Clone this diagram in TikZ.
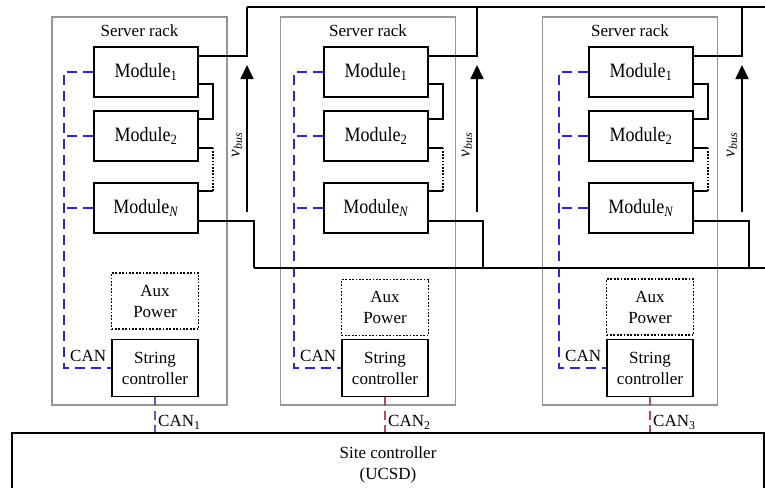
\documentclass[tikz,border=0pt]{standalone}
\usepackage{fontspec}
\setmainfont{Liberation Serif}
\usetikzlibrary{arrows.meta,calc}
\definecolor{canblue}{RGB}{40,40,210}
\definecolor{canred}{RGB}{190,75,75}
\definecolor{canpurple}{RGB}{115,80,180}
\definecolor{rackgray}{RGB}{150,150,150}

\newcommand{\modtext}[1]{\scalebox{1}[1.13]{#1}}

\begin{document}
\begin{tikzpicture}[x=1pt,y=-1pt,
  every node/.style={font=\fontsize{17}{21}\selectfont, inner sep=0pt},
  rackbox/.style={draw=rackgray, line width=1.4pt, minimum width=175pt, minimum height=388pt},
  modbox/.style={draw, line width=1.7pt, minimum width=104pt, minimum height=50pt,
                 font=\fontsize{18}{21}\selectfont},
  ctrlbox/.style={draw, fill=white, line width=1.7pt, minimum width=86pt, minimum height=57pt, align=center},
  auxbox/.style={draw, line width=1.6pt, dash pattern=on 1.8pt off 1.6pt,
                 minimum width=87pt, minimum height=56pt, align=center},
  wire/.style={line width=1.7pt},
  canbus/.style={draw=canblue, line width=1.6pt, dash pattern=on 10pt off 6pt},
  canlink/.style={line width=1.5pt, dash pattern=on 9pt off 5pt},
  vbusarrow/.style={line width=1.7pt, -{Triangle[length=14pt,width=13pt]}}
]
\useasboundingbox (0,0) rectangle (765,487);
\clip (0,0) rectangle (765,487);

% site controller at the bottom (its lower edge runs off the page)
\node[draw, line width=1.7pt, minimum width=752pt, minimum height=64pt, align=center]
  (site) at (388,465) {Site controller\\(UCSD)};

% bus ends at the right border
\coordinate (topend) at (765,7);
\coordinate (botend) at (765,268);

\foreach \i/\rx/\mx/\sx/\ay/\up/\dn/\col in {
  1/139.5/146/155/301/247/254/canpurple,
  2/368/376/385/307.5/477/483/canred,
  3/630/641/650/307/742/749/canred}
{
  % rack frame and contents
  \node[rackbox] (r\i) at (\rx,211) {};
  \node (lbl\i) at ($(r\i.north)+(0,14)$) {Server rack};
  \node[modbox] (ma\i) at (\mx,72) {\modtext{Module\textsubscript{1}}};
  \node[modbox] (mb\i) at (\mx,136) {\modtext{Module\textsubscript{2}}};
  \node[modbox] (mn\i) at (\mx,208) {\modtext{Module\textsubscript{\textit{N}}}};
  \node[auxbox] (aux\i) at (\sx,\ay) {Aux\\Power};
  \node[ctrlbox] (sc\i) at (\sx,368) {String\\controller};

  % series connection of the modules
  \draw[wire] ($(ma\i.south east)+(0,-14)$) -- ++(14,0) |- ($(mb\i.north east)+(0,9)$);
  \draw[wire] ($(mb\i.south east)+(0,-14)$) -- ++(14,0) coordinate (d\i);
  \coordinate (e\i) at ($(mn\i.north east)+(0,9)$);
  \draw[wire, line width=1.3pt, dash pattern=on 1.6pt off 1.6pt] (d\i) -- (d\i |- e\i);
  \draw[wire] (d\i |- e\i) -- (e\i);

  % string terminals to the DC bus
  \coordinate (tb\i) at (\up,7);
  \coordinate (bb\i) at (\dn,268);
  \draw[wire] ($(ma\i.north east)+(0,10)$) -| (tb\i);
  \draw[wire] ($(mn\i.south east)+(0,-13)$) -| (bb\i);

  % bus voltage arrow
  \coordinate (vs\i) at (\up,212);
  \coordinate (vt\i) at (\up,65);
  \draw[vbusarrow] (vs\i) -- (vt\i);
  \node[rotate=90] (vl\i) at (\up-10,145) {\textit{v}\textsubscript{\textit{bus}}};

  % local CAN bus
  \draw[canbus] (ma\i.west) -- ++(-29,0) coordinate (cv\i) |- (sc\i.west);
  \draw[canbus] (mb\i.west) -- (cv\i |- mb\i.west);
  \draw[canbus] (mn\i.west) -- (cv\i |- mn\i.west);
  \node (can\i) at ($(sc\i.west)+(-23,-12.5)$) {CAN};

  % link to the site controller
  \draw[canlink, draw=\col] (sc\i.south) -- (sc\i.south |- site.north);
  \node[anchor=west] (cl\i) at ($(sc\i.south)+(3,25)$) {CAN\textsubscript{\i}};
}

% DC bus rails
\draw[wire] (tb1) -- (topend);
\draw[wire] (bb1) -- (botend);
\end{tikzpicture}
\end{document}
